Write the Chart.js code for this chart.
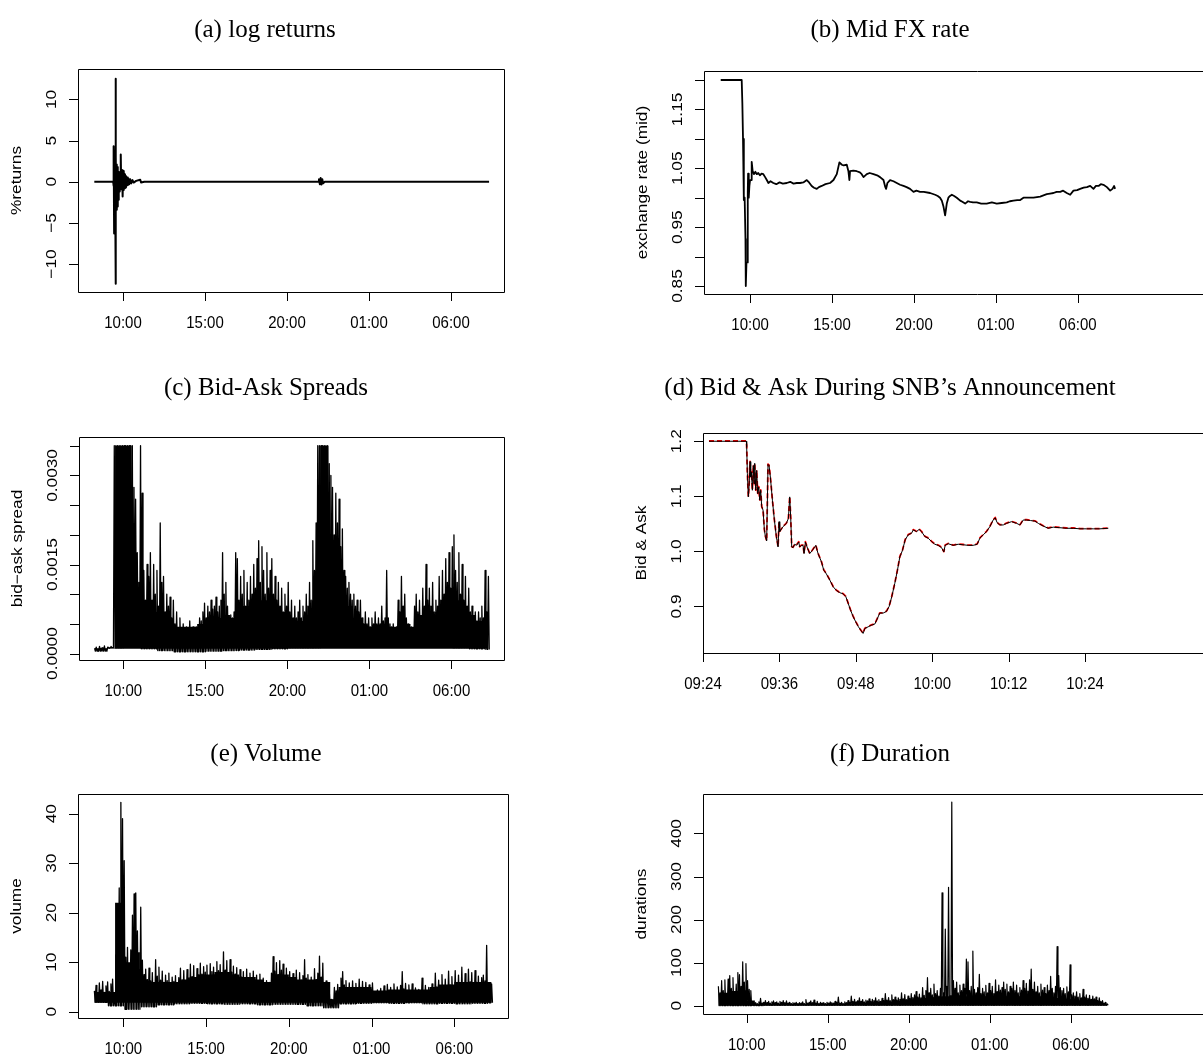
<!DOCTYPE html>
<html>
<head>
<meta charset="utf-8">
<script src="https://cdn.jsdelivr.net/npm/chart.js@4.4.1/dist/chart.umd.min.js"></script>
<style>
  html, body { margin: 0; padding: 0; background: #fff; overflow: hidden; }
  body { width: 1203px; height: 1059px; position: relative; }
  canvas { position: absolute; }
</style>
</head>
<body>
<canvas id="ca"></canvas>
<canvas id="cb"></canvas>
<canvas id="cc"></canvas>
<canvas id="cd"></canvas>
<canvas id="ce"></canvas>
<canvas id="cf"></canvas>
<script>
// time is in hours from 00:00 of the first day (25 = 01:00 next day)
const hourTicks = [10, 15, 20, 25, 30];
// dense series: tops sampled every 6 minutes from 08:15, floors per hour from 08:00,
// and the solid core of the band per half hour from 08:00
const gridStart = 8.25;
const gridStep = 0.1;
const coreStart = 8.25;
const coreStep = 0.5;

// (a) log returns, %
const retTimes = [
  8.25, 9.40, 9.42, 9.44, 9.46, 9.50, 9.53, 9.545, 9.555, 9.57,
  9.59, 9.61, 9.63, 9.65, 9.67, 9.69, 9.71, 9.73, 9.75, 9.77,
  9.79, 9.81, 9.83, 9.85, 9.875, 9.89, 9.91, 9.93, 9.95, 9.97,
  9.985, 10.0, 10.03, 10.06, 10.09, 10.12, 10.15, 10.18, 10.21, 10.25,
  10.29, 10.33, 10.38, 10.44, 10.5, 10.58, 10.65, 10.8, 11.05, 11.1,
  11.3, 21.9, 21.95, 22.0, 22.05, 22.1, 22.15, 22.2, 22.3, 32.32
];
const retValues = [
  0, 0, -0.5, 4.3, -6.3, 3.8, -4.0, 12.5, -12.4, 3.0,
  -2.6, 2.1, -3.4, 1.8, -3.0, 1.5, -2.2, 1.2, -1.5, 1.0,
  -1.2, 0.8, -0.9, 1.0, 3.3, -0.8, 1.2, -0.9, 1.4, -1.0,
  -1.8, 1.3, -1.0, 1.2, -0.8, 0.9, -0.7, 0.7, -0.5, 0.5,
  -0.4, 0.4, -0.3, 0.3, -0.2, 0.2, -0.1, 0.1, 0.25, -0.1,
  0, 0, 0.3, -0.3, 0.45, -0.35, 0.3, -0.2, 0, 0
];
const retTicks = [-10, -5, 0, 5, 10];

// (b) mid EUR/CHF rate
const midTimes = [
  8.21, 9.49, 9.53, 9.57, 9.61, 9.63, 9.67, 9.72, 9.74, 9.78,
  9.82, 9.86, 9.88, 9.92, 9.96, 10.0, 10.06, 10.1, 10.16, 10.24,
  10.32, 10.41, 10.5, 10.6, 10.7, 10.81, 10.92, 11.02, 11.12, 11.25,
  11.42, 11.6, 11.8, 12.0, 12.24, 12.45, 12.65, 12.85, 13.05, 13.25,
  13.46, 13.6, 13.76, 13.9, 14.07, 14.2, 14.37, 14.6, 14.88, 15.09,
  15.29, 15.45, 15.6, 15.7, 15.9, 16.0, 16.06, 16.1, 16.3, 16.51,
  16.7, 16.81, 16.92, 17.12, 17.3, 17.53, 17.75, 17.93, 18.14, 18.24,
  18.3, 18.38, 18.54, 18.75, 18.95, 19.15, 19.36, 19.55, 19.76, 19.97,
  20.15, 20.37, 20.6, 20.98, 21.29, 21.45, 21.59, 21.7, 21.8, 21.9,
  22.0, 22.1, 22.2, 22.31, 22.45, 22.61, 22.82, 22.95, 23.12, 23.3,
  23.43, 23.6, 23.83, 24.1, 24.44, 24.75, 25.05, 25.35, 25.66, 25.85,
  26.07, 26.3, 26.48, 26.68, 26.95, 27.29, 27.5, 27.7, 27.9, 28.1,
  28.3, 28.51, 28.7, 28.92, 29.1, 29.32, 29.53, 29.73, 29.95, 30.14,
  30.35, 30.55, 30.75, 30.95, 31.1, 31.26, 31.4, 31.56, 31.77, 31.97,
  32.11, 32.21, 32.27
];
const midValues = [
  1.2, 1.2, 1.16, 1.10, 1.02, 0.996, 1.0, 0.93, 0.85, 0.889,
  0.89, 1.01, 1.041, 1.0, 1.02, 1.03, 1.03, 1.061, 1.045, 1.04,
  1.044, 1.04, 1.042, 1.038, 1.041, 1.04, 1.035, 1.03, 1.025, 1.028,
  1.025, 1.023, 1.026, 1.024, 1.025, 1.027, 1.024, 1.025, 1.025, 1.026,
  1.03, 1.026, 1.02, 1.017, 1.015, 1.018, 1.02, 1.023, 1.025, 1.03,
  1.04, 1.06, 1.056, 1.055, 1.056, 1.045, 1.03, 1.045, 1.046, 1.045,
  1.043, 1.04, 1.035, 1.04, 1.042, 1.04, 1.038, 1.035, 1.03, 1.019,
  1.015, 1.025, 1.03, 1.028, 1.025, 1.022, 1.02, 1.018, 1.015, 1.01,
  1.012, 1.01, 1.01, 1.008, 1.005, 1.003, 1.0, 0.995, 0.985, 0.97,
  0.99, 1.0, 1.003, 1.005, 1.003, 1.0, 0.995, 0.993, 0.99, 0.994,
  0.993, 0.992, 0.992, 0.99, 0.99, 0.992, 0.99, 0.991, 0.992, 0.994,
  0.995, 0.996, 0.996, 1.0, 1.0, 1.0, 1.001, 1.002, 1.004, 1.006,
  1.007, 1.008, 1.01, 1.01, 1.012, 1.008, 1.005, 1.012, 1.013, 1.015,
  1.017, 1.018, 1.02, 1.015, 1.02, 1.02, 1.023, 1.022, 1.018, 1.012,
  1.015, 1.02, 1.015
];
const midTicks = [0.85, 0.9, 0.95, 1.0, 1.05, 1.1, 1.15, 1.2];
const midLabelled = [0.85, 0.95, 1.05, 1.15];

// (c) bid-ask spread in pips (1 pip = 0.0001)
const spreadHighPips = [
  0.9, 1.1, 0.8, 1.2, 0.9, 1.0, 1.3, 0.8, 1.1, 0.9,
  1.2, 1.0, 35, 35, 35, 35, 35, 35, 35, 35,
  35, 35, 35, 35, 28, 26, 17, 12, 35, 27,
  14, 9, 15, 13, 17, 9, 15, 10, 14, 8,
  22, 12, 13, 7, 10, 8, 9.5, 6, 9, 5,
  7, 4, 6, 4, 5, 4, 4.5, 3.5, 5.5, 4,
  4.5, 4, 4.5, 4, 6, 5.5, 7, 8.5, 6, 8,
  7, 9, 7.5, 8, 9.5, 7, 8, 9, 17, 10,
  12, 8, 6, 6.5, 6, 7, 17, 16, 9, 13,
  10, 14, 8, 12, 9, 13, 10, 15, 11, 16,
  19, 12, 18, 14, 10, 17, 11, 14, 16, 10,
  13, 9, 12, 8, 11, 7, 10, 8, 12, 7,
  9, 6, 8, 6, 7, 9, 6, 8, 7, 10,
  8, 12, 9, 19, 14, 22, 35, 35, 35, 35,
  35, 35, 35, 32, 30, 28, 20, 27, 22, 26,
  18, 21, 14, 13, 11, 12, 10, 9, 10, 8,
  9, 7, 9, 6, 5, 7, 5, 6, 4.5, 6,
  5, 7, 5, 6, 5, 8, 5.5, 6, 14, 6,
  5, 4.5, 5, 4, 4.5, 9, 7, 13, 8, 10,
  6, 5, 4, 4.5, 4, 8, 10, 7, 9, 6,
  11, 8, 15, 9, 11, 8, 12, 7, 9, 8,
  13, 9, 14, 10, 16, 12, 17, 11, 18, 20,
  14, 12, 17, 10, 15, 9, 13, 8, 11, 7,
  8, 6, 7, 5.5, 7, 6, 8, 6, 14, 7,
  13
];
const spreadLowPips = [0.4, 1.0, 2.0, 0.8, 0.5, 0.3, 0.3, 0.4, 0.5, 0.6, 0.7, 0.8, 1.0,
  1.0, 1.5, 1.2, 1.6, 1.8, 1.5, 1.3, 1.5, 1.2, 1.0, 0.8, 0.7];
const spreadCorePips = [
  0.9, 0.9, 0.9, 35, 35, 10, 9, 8, 7, 5.5,
  4.5, 4.5, 4.5, 5, 5.5, 6, 6.5, 6, 8, 8,
  9, 9, 8, 7, 6, 5.5, 6.5, 9, 35, 18,
  12, 8, 6, 4.5, 4.5, 4.5, 4.5, 4.5, 5, 4.5,
  6.5, 6.5, 7, 8, 9, 8, 6.5, 5.5, 5.5
];
const pip = 0.0001;
const spreadTicks = [0, 0.0005, 0.001, 0.0015, 0.002, 0.0025, 0.003, 0.0035];
const spreadLabelled = [0, 0.0015, 0.003];

// (d) bid & ask around the SNB announcement, minutes from midnight
const snbMinutes = [
  564.94, 570.81, 570.86, 570.97, 571.12, 571.23, 571.39, 571.49, 571.6, 571.75,
  571.91, 572.01, 572.12, 572.28, 572.43, 572.59, 572.75, 572.91, 573.06, 573.22,
  573.43, 573.64, 573.8, 574.0, 574.21, 574.37, 574.58, 574.9, 575.21, 575.52,
  575.79, 575.94, 576.05, 576.57, 577.1, 577.41, 577.62, 577.78, 577.93, 578.14,
  578.41, 578.67, 579.03, 579.19, 579.45, 579.71, 579.87, 580.08, 580.34, 580.76,
  581.18, 581.71, 582.07, 582.6, 582.96, 583.38, 583.91, 584.43, 584.95, 585.48,
  586.0, 586.42, 586.79, 587.15, 587.57, 587.99, 588.41, 588.83, 589.14, 589.41,
  589.93, 590.45, 590.98, 591.34, 591.76, 592.29, 592.81, 593.23, 593.65, 594.12,
  594.54, 594.91, 595.33, 595.75, 596.22, 596.75, 597.01, 597.53, 597.95, 598.31,
  598.84, 599.36, 599.88, 600.41, 600.93, 601.45, 601.82, 602.03, 602.5, 603.29,
  604.07, 604.86, 605.65, 606.43, 607.06, 607.48, 608.0, 608.53, 609.05, 609.57,
  609.89, 610.2, 610.62, 611.15, 611.67, 612.46, 613.24, 613.77, 614.29, 614.81,
  615.44, 616.12, 616.65, 617.43, 618.22, 619.0, 620.05, 621.1, 622.15, 623.2,
  624.24, 625.29, 626.34, 627.65
];
const bidValues = [
  1.2, 1.2, 1.19, 1.141, 1.099, 1.117, 1.163, 1.135, 1.144, 1.111,
  1.156, 1.123, 1.16, 1.111, 1.147, 1.105, 1.117, 1.093, 1.111, 1.081,
  1.075, 1.039, 1.027, 1.019, 1.158, 1.156, 1.135, 1.093, 1.057, 1.027,
  1.008, 1.054, 1.036, 1.045, 1.051, 1.06, 1.099, 1.06, 1.008, 1.007,
  1.013, 1.011, 1.017, 1.008, 1.011, 1.011, 0.996, 1.017, 1.008, 0.996,
  1.002, 1.011, 0.996, 0.981, 0.966, 0.959, 0.948, 0.936, 0.929, 0.925,
  0.923, 0.918, 0.906, 0.894, 0.882, 0.872, 0.863, 0.856, 0.851, 0.86,
  0.863, 0.866, 0.868, 0.877, 0.888, 0.888, 0.891, 0.9, 0.918, 0.942,
  0.966, 0.99, 1.002, 1.021, 1.03, 1.033, 1.039, 1.036, 1.04, 1.036,
  1.027, 1.024, 1.018, 1.013, 1.011, 1.007, 0.999, 1.011, 1.014, 1.011,
  1.013, 1.012, 1.011, 1.011, 1.013, 1.024, 1.03, 1.036, 1.045, 1.057,
  1.061, 1.052, 1.048, 1.048, 1.051, 1.054, 1.051, 1.048, 1.057, 1.057,
  1.056, 1.055, 1.051, 1.046, 1.042, 1.044, 1.043, 1.042, 1.042, 1.041,
  1.041, 1.041, 1.041, 1.042
];
const askValues = [
  1.2005, 1.2005, 1.1905, 1.1415, 1.0995, 1.1175, 1.1635, 1.1355, 1.1445, 1.1115,
  1.1565, 1.1235, 1.1605, 1.1115, 1.1475, 1.1055, 1.1175, 1.0935, 1.1115, 1.0815,
  1.0755, 1.0395, 1.0275, 1.0195, 1.1585, 1.1565, 1.1355, 1.0935, 1.0575, 1.0275,
  1.0085, 1.0545, 1.0365, 1.0455, 1.0515, 1.0605, 1.0995, 1.0605, 1.0085, 1.0075,
  1.0135, 1.0115, 1.0175, 1.0085, 1.0115, 1.0115, 0.9965, 1.0175, 1.0085, 0.9965,
  1.0025, 1.0115, 0.9965, 0.9815, 0.9665, 0.9595, 0.9485, 0.9365, 0.9295, 0.9255,
  0.9235, 0.9185, 0.9065, 0.8945, 0.8825, 0.8725, 0.8635, 0.8565, 0.8515, 0.8605,
  0.8635, 0.8665, 0.8685, 0.8775, 0.8885, 0.8885, 0.8915, 0.9005, 0.9185, 0.9425,
  0.9665, 0.9905, 1.0025, 1.0215, 1.0305, 1.0335, 1.0395, 1.0365, 1.0405, 1.0365,
  1.0275, 1.0245, 1.0185, 1.0135, 1.0115, 1.0075, 0.9995, 1.0115, 1.0145, 1.0115,
  1.0135, 1.0125, 1.0115, 1.0115, 1.0135, 1.0245, 1.0305, 1.0365, 1.0455, 1.0575,
  1.0615, 1.0525, 1.0485, 1.0485, 1.0515, 1.0545, 1.0515, 1.0485, 1.0575, 1.0575,
  1.0565, 1.0555, 1.0515, 1.0465, 1.0425, 1.0445, 1.0435, 1.0425, 1.0425, 1.0415,
  1.0415, 1.0415, 1.0415, 1.0425
];
const snbTicks = [564, 576, 588, 600, 612, 624];
const snbYTicks = [0.9, 1.0, 1.1, 1.2];

// (e) volume
const volumeHigh = [
  4.2, 5.3, 3.6, 5.8, 4.4, 6.1, 3.9, 5.2, 6.0, 4.1,
  5.6, 6.6, 3.2, 11.5, 16.4, 25, 42.3, 39, 30.5, 11,
  13, 9.5, 12.5, 19.5, 23.8, 24, 16.3, 8.5, 21.1, 10.4,
  7.5, 8.6, 6.5, 8.8, 6.2, 7.9, 5.8, 10.5, 7.2, 9,
  6.4, 8.2, 5.9, 7.4, 6.3, 7.8, 5.5, 7.0, 6.1, 7.3,
  5.7, 6.9, 8.8, 6.4, 8.3, 6.0, 8.5, 6.8, 9.6, 7.1,
  9.3, 6.9, 8.7, 7.4, 9.8, 7.6, 9.1, 8.0, 9.4, 7.2,
  9.7, 8.1, 9.0, 7.5, 10.1, 8.3, 9.5, 7.8, 12.1, 8.4,
  10.3, 7.9, 10.5, 8.0, 9.2, 7.6, 8.9, 7.3, 8.5, 7.0,
  8.1, 6.8, 8.6, 6.9, 7.8, 6.5, 8.2, 6.4, 7.4, 6.2,
  7.6, 6.0, 6.8, 5.6, 6.3, 5.4, 5.9, 7.8, 11.1, 8.2,
  9.9, 7.5, 10.3, 8.4, 9.6, 7.2, 8.8, 6.9, 8.1, 6.5,
  7.7, 6.2, 8.4, 6.0, 7.9, 6.4, 7.3, 10.5, 6.8, 7.5,
  5.9, 7.0, 6.2, 8.7, 6.5, 7.8, 11.2, 7.0, 9.8, 5.6,
  6.2, 4.8, 3.6, 2.5, 2.2, 4.9, 4.2, 5.5, 4.4, 6.8,
  8.1, 5.4, 6.3, 4.6, 5.8, 4.3, 6.2, 4.8, 5.7, 4.4,
  6.6, 4.9, 6.1, 4.5, 5.9, 4.2, 5.4, 4.6, 5.8, 4.0,
  3.8, 4.4, 3.6, 4.7, 3.9, 5.2, 4.1, 5.5, 4.3, 4.9,
  3.8, 5.6, 4.2, 5.0, 4.1, 5.3, 8.1, 4.6, 5.7, 4.3,
  5.4, 3.9, 5.6, 4.2, 4.8, 3.7, 4.5, 3.5, 6.8, 4.1,
  5.3, 3.8, 4.9, 4.0, 5.6, 4.4, 7.8, 5.0, 6.4, 4.6,
  7.5, 5.1, 6.6, 4.8, 8.2, 5.4, 7.1, 5.0, 8.3, 5.6,
  7.4, 5.2, 9.0, 5.8, 7.7, 5.3, 8.6, 6.0, 7.9, 5.5,
  8.3, 5.9, 7.2, 5.4, 6.9, 7.4, 6.2, 13.4, 5.8, 5.5,
  5.6
];
const volumeLow = [1.9, 1.2, 0.5, 1.0, 1.4, 1.6, 1.7, 1.6, 1.5, 1.6, 1.4, 1.5, 1.5,
  1.2, 0.8, 1.6, 1.7, 1.8, 1.7, 1.8, 1.6, 1.7, 1.6, 1.7, 1.8];
const volumeCore = [
  4, 4, 4, 22, 10, 12, 6.5, 6, 6, 6,
  6, 6.5, 7, 7.5, 7.5, 8, 8, 7.5, 7, 7,
  6.5, 6, 7.5, 7.5, 7, 6.5, 6.5, 6.5, 6, 2.5,
  5, 5, 5, 5, 4.3, 4.3, 4.5, 4.5, 4.5, 4.5,
  4.5, 5, 5.5, 5.5, 6, 6, 6, 6, 6
];
const volumeTicks = [0, 10, 20, 30, 40];

// (f) durations between quotes, seconds
const durationHigh = [
  45, 30, 58, 35, 60, 28, 62, 70, 40, 65,
  30, 50, 77, 72, 45, 102, 55, 98, 58, 38,
  35, 8, 6, 7, 5, 9, 17, 6, 8, 12,
  7, 10, 6, 9, 11, 7, 9, 6, 10, 8,
  12, 7, 11, 6, 8, 5, 7, 6, 8, 5,
  7, 6, 9, 5, 14, 6, 8, 11, 7, 13,
  6, 10, 5, 8, 6, 7, 5, 8, 6, 9,
  7, 6, 10, 7, 20, 6, 8, 5, 9, 7,
  12, 8, 22, 10, 15, 9, 12, 18, 10, 14,
  9, 13, 11, 16, 10, 15, 12, 18, 11, 14,
  10, 17, 12, 28, 13, 19, 12, 25, 14, 20,
  13, 18, 15, 30, 16, 26, 14, 22, 17, 28,
  19, 25, 33, 20, 27, 18, 42, 24, 35, 65,
  30, 40, 25, 50, 28, 35, 22, 40, 262, 30,
  178, 45, 275, 2, 473, 58, 40, 55, 30, 48,
  35, 50, 40, 108, 102, 35, 45, 127, 38, 30,
  42, 73, 28, 40, 32, 47, 30, 52, 35, 45,
  28, 60, 33, 48, 36, 42, 55, 38, 50, 32,
  45, 40, 55, 35, 48, 30, 42, 36, 58, 40,
  52, 34, 60, 85, 38, 55, 32, 45, 30, 50,
  36, 42, 28, 48, 35, 68, 40, 30, 45, 137,
  70, 42, 35, 40, 28, 44, 32, 95, 25, 30,
  22, 32, 20, 28, 18, 38, 20, 25, 17, 24,
  15, 22, 16, 20, 12, 18, 10, 12, 6, 8,
  4
];
const durationLow = [0, 0, 0, 1, 1, 1, 1, 1, 1, 1, 1, 1, 1, 1, 1, 1, 1, 1, 1, 1, 1, 1, 1, 1, 1];
const durationCore = [
  28, 30, 34, 36, 12, 4, 4, 4, 4, 4,
  4, 4, 4, 4, 4, 4, 5, 6, 7, 8,
  9, 10, 11, 12, 14, 16, 18, 20, 22, 24,
  24, 22, 22, 22, 22, 22, 22, 22, 22, 22,
  22, 20, 18, 16, 14, 12, 10, 7, 4
];
const durationTicks = [0, 100, 200, 300, 400];

const serif = '"Liberation Serif", "Times New Roman", serif';
const sans = '"Liberation Sans", Arial, sans-serif';
// the figure was scaled a little taller than wide
const stretch = 1.15;

function hourLabel(v) {
  return String(v % 24).padStart(2, '0') + ':00';
}
function minuteLabel(v) {
  return String(Math.floor(v / 60)).padStart(2, '0') + ':' + String(v % 60).padStart(2, '0');
}
function pairs(xs, ys) {
  return xs.map((x, i) => ({ x: x, y: ys[i] }));
}
// dense tick data: top of each sample, then back down to the floor of that hour
function zigzag(highs, lows, unit) {
  const pts = [];
  highs.forEach((v, i) => {
    const t = gridStart + gridStep * i;
    pts.push({ x: t, y: v * unit });
    pts.push({ x: t + gridStep / 2, y: lows[Math.floor(t) - 8] * unit });
  });
  return pts;
}
function core(levels, unit) {
  return levels.map((v, k) => ({ x: coreStart + coreStep * k, y: v * unit }));
}
function bandSets(highs, lows, cores, unit, floor, width) {
  return [
    { data: core(cores, unit), borderWidth: 0, borderColor: 'rgba(0,0,0,0)',
      backgroundColor: '#000', stepped: 'middle', fill: { value: floor } },
    { data: zigzag(highs, lows, unit), borderColor: '#000', borderWidth: width }
  ];
}

// R style box, ticks and labels
function rFrame(spec) {
  return {
    id: 'rFrame',
    afterDraw(chart) {
      const ctx = chart.ctx, a = chart.chartArea;
      const xs = chart.scales.x, ys = chart.scales.y;
      ctx.save();
      ctx.strokeStyle = '#000';
      ctx.lineWidth = 1;
      ctx.beginPath();
      ctx.rect(Math.round(a.left) + 0.5, Math.round(a.top) + 0.5,
        Math.round(a.right - a.left), Math.round(a.bottom - a.top));
      spec.xTicks.forEach(v => {
        const px = Math.round(xs.getPixelForValue(v)) + 0.5;
        ctx.moveTo(px, a.bottom);
        ctx.lineTo(px, a.bottom + 9);
      });
      spec.yTicks.forEach(v => {
        const py = Math.round(ys.getPixelForValue(v)) + 0.5;
        ctx.moveTo(a.left - 9, py);
        ctx.lineTo(a.left, py);
      });
      ctx.stroke();

      ctx.fillStyle = '#000';
      ctx.textAlign = 'center';
      ctx.textBaseline = 'middle';
      ctx.font = '15px ' + sans;
      spec.xTicks.forEach(v => {
        ctx.save();
        ctx.translate(xs.getPixelForValue(v), a.bottom + 31);
        ctx.scale(1, stretch);
        ctx.fillText(spec.xLabel(v), 0, 0);
        ctx.restore();
      });
      spec.yTicks.forEach(v => {
        const t = spec.yLabel(v);
        if (!t) return;
        ctx.save();
        ctx.translate(a.left - 26, ys.getPixelForValue(v));
        ctx.rotate(-Math.PI / 2);
        ctx.scale(stretch, 1);
        ctx.fillText(t, 0, 0);
        ctx.restore();
      });
      ctx.save();
      ctx.translate(a.left - 61, (a.top + a.bottom) / 2);
      ctx.rotate(-Math.PI / 2);
      ctx.scale(stretch, 1);
      ctx.fillText(spec.yTitle, 0, 0);
      ctx.restore();

      ctx.font = '25px ' + serif;
      ctx.textBaseline = 'alphabetic';
      ctx.fillText(spec.title, spec.titleAt[0] - spec.div[0], spec.titleAt[1] - spec.div[1]);
      ctx.restore();
    }
  };
}

function panel(id, spec, datasets) {
  const el = document.getElementById(id);
  const [dl, dt, dw, dh] = spec.div;
  const [bl, bt, br, bb] = spec.box;
  el.width = dw;
  el.height = dh;
  el.style.left = dl + 'px';
  el.style.top = dt + 'px';
  new Chart(el, {
    type: 'line',
    data: { datasets: datasets },
    options: {
      responsive: false,
      animation: false,
      devicePixelRatio: 1,
      events: [],
      layout: { padding: { left: bl - dl, top: bt - dt, right: dl + dw - br, bottom: dt + dh - bb } },
      elements: { point: { radius: 0 }, line: { tension: 0, borderJoinStyle: 'round' } },
      scales: {
        x: { type: 'linear', min: spec.x[0], max: spec.x[1], display: false },
        y: { type: 'linear', min: spec.y[0], max: spec.y[1], display: false }
      },
      plugins: { legend: { display: false }, tooltip: { enabled: false } }
    },
    plugins: [rFrame(spec)]
  });
}

panel('ca', {
  div: [0, 0, 600, 350], box: [78, 69, 504, 292], x: [7.256, 33.23], y: [-13.4, 13.7],
  xTicks: hourTicks, xLabel: hourLabel, yTicks: retTicks,
  yLabel: v => String(v).replace('-', '\u2212'),
  yTitle: '%returns', title: '(a) log returns', titleAt: [265, 37]
}, [{ data: pairs(retTimes, retValues), borderColor: '#000', borderWidth: 2 }]);

panel('cb', {
  div: [600, 0, 660, 350], box: [704, 71, 1250, 294], x: [7.19, 40.5], y: [0.8364, 1.2153],
  xTicks: hourTicks, xLabel: hourLabel, yTicks: midTicks,
  yLabel: v => midLabelled.includes(v) ? v.toFixed(2) : '',
  yTitle: 'exchange rate (mid)', title: '(b) Mid FX rate', titleAt: [890, 37]
}, [{ data: pairs(midTimes, midValues), borderColor: '#000', borderWidth: 1.8 }]);

panel('cc', {
  div: [0, 350, 600, 350], box: [79, 437, 504, 660], x: [7.30, 33.2], y: [-0.000108, 0.003647],
  xTicks: hourTicks, xLabel: hourLabel, yTicks: spreadTicks,
  yLabel: v => spreadLabelled.includes(v) ? v.toFixed(4) : '',
  yTitle: 'bid\u2212ask spread', title: '(c) Bid-Ask Spreads', titleAt: [266, 395]
}, bandSets(spreadHighPips, spreadLowPips, spreadCorePips, pip, 0.00008, 1.3));

panel('cd', {
  div: [600, 350, 660, 350], box: [703, 433, 1250, 653], x: [564, 649.9], y: [0.8155, 1.215],
  xTicks: snbTicks, xLabel: minuteLabel, yTicks: snbYTicks,
  yLabel: v => v.toFixed(1),
  yTitle: 'Bid & Ask', title: '(d) Bid & Ask During SNB\u2019s Announcement', titleAt: [890, 395]
}, [
  { data: pairs(snbMinutes, bidValues), borderColor: '#000', borderWidth: 1 },
  { data: pairs(snbMinutes, askValues), borderColor: '#ff0000', borderWidth: 1.8, borderDash: [5, 3] }
]);

panel('ce', {
  div: [0, 700, 600, 359], box: [78, 794, 508, 1018], x: [7.26, 33.24], y: [-1.27, 43.98],
  xTicks: hourTicks, xLabel: hourLabel, yTicks: volumeTicks,
  yLabel: v => String(v),
  yTitle: 'volume', title: '(e) Volume', titleAt: [266, 761]
}, bandSets(volumeHigh, volumeLow, volumeCore, 1, 1.8, 1.3));

panel('cf', {
  div: [600, 700, 660, 359], box: [703, 794, 1250, 1014], x: [7.30, 41.05], y: [-19.3, 491.6],
  xTicks: hourTicks, xLabel: hourLabel, yTicks: durationTicks,
  yLabel: v => String(v),
  yTitle: 'durations', title: '(f) Duration', titleAt: [890, 761]
}, bandSets(durationHigh, durationLow, durationCore, 1, 0, 1.2));
</script>
</body>
</html>
